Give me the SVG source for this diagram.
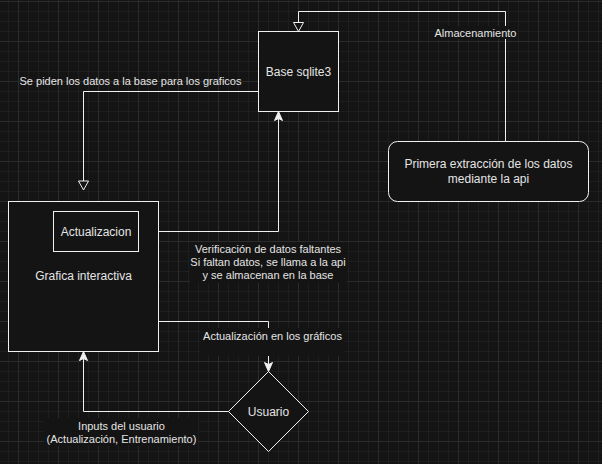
<svg xmlns="http://www.w3.org/2000/svg" width="602" height="464" viewBox="0 0 602 464">
<defs>
<pattern id="grid" x="-22" y="1" width="40" height="40" patternUnits="userSpaceOnUse">
<path d="M10.5,0 V40 M20.5,0 V40 M30.5,0 V40 M0,10.5 H40 M0,20.5 H40 M0,30.5 H40" stroke="#1e1e1e" stroke-width="1" fill="none"/>
<path d="M0.5,0 V40 M0,0.5 H40" stroke="#2c2c2c" stroke-width="1" fill="none"/>
</pattern>
<marker id="open" viewBox="-11 -6 12 12" refX="0" refY="0" markerWidth="12" markerHeight="12" markerUnits="userSpaceOnUse" orient="auto">
<path d="M0,0 L-9,-5 L-9,5 Z" fill="#141414" stroke="#f0f0f0" stroke-width="1"/>
</marker>
<marker id="classic" viewBox="-11 -6 12 12" refX="0" refY="0" markerWidth="12" markerHeight="12" markerUnits="userSpaceOnUse" orient="auto">
<path d="M0,0 L-9,-4 L-7,0 L-9,4 Z" fill="#f0f0f0" stroke="#f0f0f0" stroke-width="1"/>
</marker>
</defs>
<style>
.node { fill: #141414; stroke: #f0f0f0; stroke-width: 1; }
.edge { fill: none; stroke: #f0f0f0; stroke-width: 1; }
.t12 { font-family: "Liberation Sans", Arial, sans-serif; font-size: 12px; fill: #e4e4e4; text-anchor: middle; }
.t11 { font-family: "Liberation Sans", Arial, sans-serif; font-size: 11px; fill: #e4e4e4; text-anchor: middle; }
.lbg { fill: #141414; }
</style>
<rect x="0" y="0" width="602" height="464" fill="#141414"/>
<rect x="0" y="0" width="602" height="464" fill="url(#grid)"/>

<g id="connectors">
<path class="edge" d="M505.5,141.5 V11.5 H298.5 V31.5" marker-end="url(#open)"/>
<path class="edge" d="M258.5,91.5 H83.5 V190" marker-end="url(#open)"/>
<path class="edge" d="M138.5,231.5 H278.5 V111.5" marker-end="url(#classic)"/>
<path class="edge" d="M158.5,321.5 H268.5 V371.5" marker-end="url(#classic)"/>
<path class="edge" d="M228.5,411.5 H83.5 V351.5" marker-end="url(#classic)"/>
<text class="t11" x="130.5" y="85">Se piden los datos a la base para los graficos</text>
<rect class="lbg" x="434" y="26" width="83" height="13"/>
<text class="t11" x="475.5" y="36.5">Almacenamiento</text>
<rect class="lbg" x="190" y="242" width="157" height="41"/>
<text class="t11" x="268" y="253.3">Verificación de datos faltantes</text>
<text class="t11" x="268" y="266.3">Si faltan datos, se llama a la api</text>
<text class="t11" x="268" y="279.3">y se almacenan en la base</text>
<rect class="lbg" x="201" y="328" width="143" height="28"/>
<text class="t11" x="272.5" y="339.7">Actualización en los gráficos</text>
<rect class="lbg" x="44" y="418" width="154" height="28"/>
<text class="t11" x="121.5" y="429.7">Inputs del usuario</text>
<text class="t11" x="121.5" y="443.3">(Actualización, Entrenamiento)</text>
</g>

<g id="base">
<rect class="node" x="258.5" y="31.5" width="80" height="80"/>
<text class="t12" x="298.5" y="75.5">Base sqlite3</text>
</g>
<g id="primera">
<rect class="node" x="388.5" y="141.5" width="200" height="60" rx="9" ry="9"/>
<text class="t12" x="488.5" y="168">Primera extracción de los datos</text>
<text class="t12" x="488.5" y="183">mediante la api</text>
</g>
<g id="grafica">
<rect class="node" x="8.5" y="201.5" width="150" height="150"/>
<text class="t12" x="83.5" y="279.7">Grafica interactiva</text>
</g>
<g id="actualizacion">
<rect class="node" x="53.5" y="211.5" width="85" height="40"/>
<text class="t12" x="96" y="235.5">Actualizacion</text>
</g>
<g id="usuario">
<path class="node" d="M268.5,371.5 L308.5,411.5 L268.5,451.5 L228.5,411.5 Z"/>
<text class="t12" x="268.5" y="415.5">Usuario</text>
</g>
</svg>
